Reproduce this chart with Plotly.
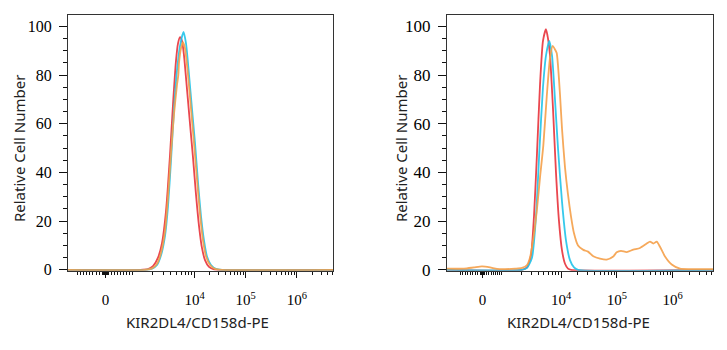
import math
import plotly.graph_objects as go

# ---------------- data (x in biexponential display units: decade position) ----
left_red_x = [1.529, 2.936, 3.092, 3.189, 3.287, 3.365, 3.443, 3.521, 3.580, 3.639, 3.678, 3.717,
              3.756, 3.795, 3.854, 3.912, 3.971, 4.029, 4.088, 4.146, 4.205, 4.283, 4.381, 4.498, 6.705]
left_red_y = [0, 0, 0.3, 1.5, 5, 11, 24, 47, 68, 86, 93, 95.5,
              94, 88, 74, 60, 46, 31, 18, 9, 4, 1.2, 0.2, 0, 0]

left_cyan_x = [1.529, 3.033, 3.170, 3.268, 3.346, 3.424, 3.482, 3.541, 3.600, 3.658, 3.717, 3.785,
               3.834, 3.893, 3.951, 4.010, 4.068, 4.127, 4.186, 4.244, 4.322, 4.420, 4.537, 6.705]
left_cyan_y = [0, 0, 0.5, 2, 6, 14, 26, 45, 66, 82, 92, 97.7,
               93, 80, 66, 52, 36, 22, 12, 5.5, 2, 0.4, 0, 0]

left_orange_x = [1.529, 3.033, 3.170, 3.268, 3.346, 3.424, 3.482, 3.541, 3.600, 3.658, 3.684, 3.697,
                 3.736, 3.775, 3.814, 3.873, 3.932, 3.990, 4.049, 4.107, 4.166, 4.225, 4.303, 4.400,
                 4.537, 6.705]
left_orange_y = [0, 0, 0.6, 2.5, 7, 16, 30, 48, 64, 76, 80, 85,
                 91, 93.5, 91, 80, 66, 52, 37, 23, 12, 5.5, 2, 0.4,
                 0, 0]

right_red_x = [1.957, 3.301, 3.391, 3.462, 3.516, 3.570, 3.624, 3.677, 3.731, 3.767, 3.803, 3.857,
               3.910, 3.964, 4.018, 4.072, 4.125, 4.179, 6.724]
right_red_y = [0, 0, 1, 6, 22, 48, 76, 94, 98.8, 95, 88, 66,
               40, 20, 8, 2.5, 0.5, 0, 0]

right_cyan_x = [1.957, 3.301, 3.391, 3.480, 3.552, 3.615, 3.677, 3.731, 3.790, 3.839, 3.892, 3.946,
                4.018, 4.090, 4.161, 4.233, 4.305, 6.724]
right_cyan_y = [0, 0, 0.8, 5, 22, 50, 75, 88, 94, 88, 70, 50,
                28, 12, 4, 1, 0, 0]

right_orange_x = [1.957, 2.262, 2.441, 2.584, 2.728, 2.853, 2.996, 3.176, 3.301, 3.391, 3.444, 3.498,
                  3.565, 3.624, 3.683, 3.744, 3.803, 3.851, 3.892, 3.923, 3.946, 3.982, 4.018, 4.072,
                  4.125, 4.179, 4.233, 4.305, 4.400, 4.484, 4.579, 4.699, 4.819, 4.937, 4.998, 5.075,
                  5.177, 5.296, 5.416, 5.536, 5.595, 5.654, 5.715, 5.774, 5.864, 5.984, 6.133, 6.312,
                  6.724]
right_orange_y = [0.5, 0.5, 1.0, 1.4, 1.0, 0.4, 0.3, 0.5, 0.8, 2, 5, 12,
                  24, 38, 51, 71, 87, 92, 90.5, 89, 84, 72, 58, 42,
                  31, 22, 15, 10, 8.2, 7.5, 5.6, 4.6, 4.2, 5.5, 7.2, 7.8,
                  7.3, 8.3, 9, 10.8, 11.6, 10.8, 11.6, 9.5, 5.5, 2.2, 0.5, 0.3,
                  0.3]

y_major = [0, 20, 40, 60, 80, 100]
y_minor = [v for v in range(5, 105, 5) if v % 20 != 0]
x_tick_values = [0, 1e4, 1e5, 1e6]
x_tick_text = ["0", "10<sup>4</sup>", "10<sup>5</sup>", "10<sup>6</sup>"]

RED, CYAN, ORANGE = "#E8343C", "#22C4EA", "#F5A04A"
W, H = 727, 350
SERIF = "Liberation Serif"


def make_pos(u_m1000, u_0, u_1000):
    def pos(v):
        if v == 0:
            return u_0
        if 0 < v <= 1000:
            return u_0 + (u_1000 - u_0) * v / 1000
        if -1000 <= v < 0:
            return u_0 + (u_0 - u_m1000) * v / 1000
        if 1000 < v < 1e4:
            return u_1000 + (4 - u_1000) * (math.log10(v) - 3)
        if v >= 1e4:
            return math.log10(v)
        return u_m1000 - (math.log10(-v) - 3)
    return pos


def tick_sets(pos, lo, hi):
    major = [pos(v) for v in x_tick_values]
    long_unlabeled = [pos(-1000), pos(1000)]
    minor_v = []
    for e in (1, 2):
        for k in range(1, 10):
            minor_v += [k * 10 ** e, -k * 10 ** e]
    for e in (3, 4, 5, 6):
        for k in range(2, 10):
            minor_v += [k * 10 ** e, -k * 10 ** e]
    minor = [pos(v) for v in minor_v]
    minor = [m for m in minor if lo <= m <= hi]
    return major, long_unlabeled, minor


left_range = [1.529, 6.705]
right_range = [1.957, 6.724]
lpos = make_pos(1.646, 2.262, 2.838)
rpos = make_pos(2.154, 2.593, 2.979)
l_major, l_long, l_minor = tick_sets(lpos, *left_range)
r_major, r_long, r_minor = tick_sets(rpos, *right_range)

fig = go.Figure()
line_w = 1.8
for xs, ys, col in [(left_red_x, left_red_y, RED), (left_cyan_x, left_cyan_y, CYAN),
                    (left_orange_x, left_orange_y, ORANGE)]:
    fig.add_trace(go.Scatter(x=xs, y=ys, mode="lines", xaxis="x", yaxis="y",
                             line=dict(color=col, width=line_w, shape="spline", smoothing=0.6),
                             opacity=0.9, showlegend=False, hoverinfo="skip"))
for xs, ys, col in [(right_red_x, right_red_y, RED), (right_cyan_x, right_cyan_y, CYAN),
                    (right_orange_x, right_orange_y, ORANGE)]:
    fig.add_trace(go.Scatter(x=xs, y=ys, mode="lines", xaxis="x2", yaxis="y2",
                             line=dict(color=col, width=line_w, shape="spline", smoothing=0.6),
                             opacity=0.9, showlegend=False, hoverinfo="skip"))

ydom = [(H - 278) / H, (H - 15) / H]
common_line = dict(showline=True, linecolor="#333", linewidth=1.3, mirror=True,
                   showgrid=False, zeroline=False)


def xaxis_cfg(dom, rng, major, minor, anchor):
    return dict(domain=dom, range=rng, anchor=anchor, tickmode="array", tickvals=major,
                ticktext=x_tick_text,
                ticks="outside", ticklen=6, tickwidth=1.2, tickcolor="#111",
                ticklabelstandoff=9,
                minor=dict(tickmode="array", tickvals=minor, ticks="outside", ticklen=3,
                           tickwidth=1, tickcolor="#111"),
                tickfont=dict(family=SERIF, size=15, color="#000"),
                fixedrange=True, **common_line)


def long_tick_cfg(dom, rng, vals, overlay, anchor):
    return dict(domain=dom, range=rng, anchor=anchor, overlaying=overlay, tickmode="array",
                tickvals=vals, showticklabels=False, ticks="outside", ticklen=6,
                tickwidth=1.2, tickcolor="#111", showline=False, showgrid=False,
                zeroline=False, fixedrange=True)


def yaxis_cfg(anchor, size):
    return dict(domain=ydom, range=[-0.4, 104.8], anchor=anchor, tickmode="array",
                tickvals=y_major, ticks="outside", ticklen=8, tickwidth=1.2, tickcolor="#111",
                ticklabelstandoff=4,
                minor=dict(tickmode="array", tickvals=y_minor, ticks="outside", ticklen=4,
                           tickwidth=1, tickcolor="#111"),
                tickfont=dict(family=SERIF, size=size, color="#000"),
                fixedrange=True, **common_line)


fig.update_layout(
    width=W, height=H, margin=dict(l=0, r=0, t=0, b=0),
    paper_bgcolor="white", plot_bgcolor="white",
    xaxis=xaxis_cfg([68 / W, 333 / W], left_range, l_major, l_minor, "y"),
    xaxis2=xaxis_cfg([447 / W, 713 / W], right_range, r_major, r_minor, "y2"),
    xaxis3=long_tick_cfg([68 / W, 333 / W], left_range, l_long, "x", "y"),
    xaxis4=long_tick_cfg([447 / W, 713 / W], right_range, r_long, "x2", "y2"),
    yaxis=yaxis_cfg("x", 16),
    yaxis2=yaxis_cfg("x2", 17),
)

title_font = dict(family="Noto Sans", size=15, color="#222")
for xc in (19, 401):
    fig.add_annotation(text="Relative Cell Number", xref="paper", yref="paper",
                       x=xc / W, y=(H - 152) / H, textangle=-90, showarrow=False,
                       font=title_font, xanchor="center", yanchor="middle")
for xc in (197, 578):
    fig.add_annotation(text="KIR2DL4/CD158d-PE", xref="paper", yref="paper",
                       x=xc / W, y=(H - 330) / H, showarrow=False,
                       font=title_font, xanchor="center", yanchor="middle")

fig.write_html("out.html")
